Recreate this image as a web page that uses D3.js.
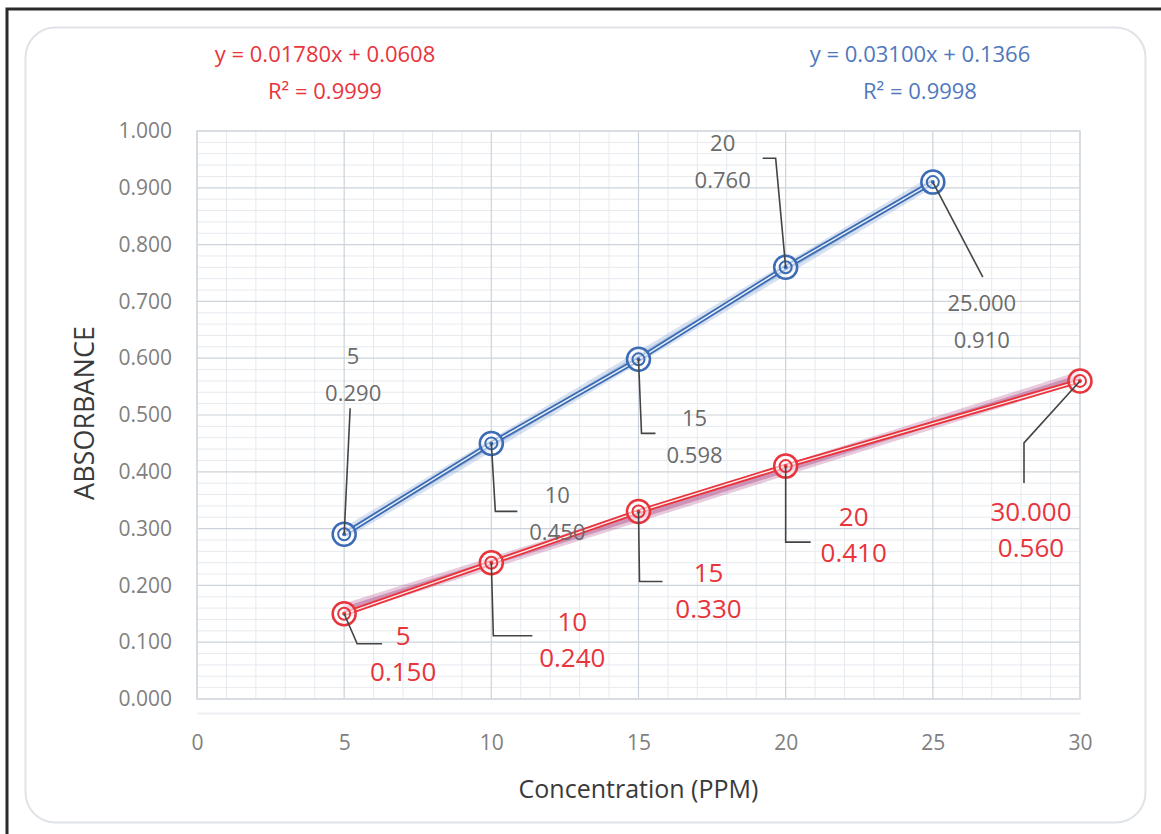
<!DOCTYPE html>
<html>
<head>
<meta charset="utf-8">
<script src="https://cdn.jsdelivr.net/npm/d3@7"></script>
<style>
  body { margin: 0; background: #fff; }
  svg { display: block; }
  .tick-label { font-family: "Open Sans", sans-serif; fill: #808080; }
  .title { font-family: "Open Sans", sans-serif; fill: #3a3a3a; }
  .eq { font-family: "Open Sans", sans-serif; }
  .lbl { font-family: "Open Sans", "DejaVu Sans", sans-serif; }
</style>
</head>
<body>
<div id="chart"></div>
<script>
// data
const xTicks = [0, 5, 10, 15, 20, 25, 30]
const yTicks = [0, 0.1, 0.2, 0.3, 0.4, 0.5, 0.6, 0.7, 0.8, 0.9, 1.0]

const blueX = [5, 10, 15, 20, 25]
const blueY = [0.290, 0.450, 0.598, 0.760, 0.910]
const blueLabelX = ['5', '10', '15', '20', '25.000']
const blueLabelY = ['0.290', '0.450', '0.598', '0.760', '0.910']
const blueEq = ['y = 0.03100x + 0.1366', 'R² = 0.9998']

const redX = [5, 10, 15, 20, 30]
const redY = [0.150, 0.240, 0.330, 0.410, 0.560]
const redLabelX = ['5', '10', '15', '20', '30.000']
const redLabelY = ['0.150', '0.240', '0.330', '0.410', '0.560']
const redEq = ['y = 0.01780x + 0.0608', 'R² = 0.9999']

// label placement (pixel offsets from the point): text dx, dy, leader path
const blueLabelPos = [
  { dx: 9, dy: -178, lead: [[0, 0], [6, -126]] },
  { dx: 66, dy: 52, lead: [[0, 0], [4, 68], [26, 68]] },
  { dx: 56, dy: 59, lead: [[0, 0], [3, 74], [17, 74]] },
  { dx: -63, dy: -124, lead: [[0, 0], [-10, -109], [-23, -109]] },
  { dx: 49, dy: 121, lead: [[0, 0], [50, 95]] }
]
const redLabelPos = [
  { dx: 59, dy: 22, lead: [[0, 0], [13, 30], [38, 30]] },
  { dx: 81, dy: 59, lead: [[0, 0], [2, 73], [41, 73]] },
  { dx: 70, dy: 61, lead: [[0, 0], [1, 70], [24, 70]] },
  { dx: 68, dy: 51, lead: [[0, 0], [0, 76], [25, 76]] },
  { dx: -49, dy: 131, lead: [[0, 0], [-56, 62], [-56, 102]] }
]

const W = 1161
const H = 834
const marginLeft = 197
const marginTop = 131
const plotW = 1080 - 197
const plotH = 699 - 131

const blueColor = '#3b6cb4'
const redColor = '#e8343c'

const svg = d3.select('#chart').append('svg')
  .attr('width', W)
  .attr('height', H)

// frame
svg.append('rect').attr('x', 0).attr('y', 0).attr('width', W).attr('height', H).attr('fill', '#fff')
svg.append('path')
  .attr('d', `M7,${H} L7,9 L${W},9`)
  .attr('fill', 'none').attr('stroke', '#2a2a2a').attr('stroke-width', 3)
svg.append('rect')
  .attr('x', 25.5).attr('y', 27.5).attr('width', 1120).attr('height', 795)
  .attr('rx', 30).attr('ry', 30)
  .attr('fill', '#fff').attr('stroke', '#dfe3e8').attr('stroke-width', 2)

const x = d3.scaleLinear().domain([0, 30]).range([0, plotW])
const y = d3.scaleLinear().domain([0, 1]).range([plotH, 0])

const g = svg.append('g').attr('transform', `translate(${marginLeft}, ${marginTop})`)

// minor grid
const grid = g.append('g')
grid.selectAll('.minor-x')
  .data(d3.range(0, 31).filter(d => d % 5 !== 0))
  .enter().append('line')
  .attr('x1', d => x(d)).attr('x2', d => x(d))
  .attr('y1', 0).attr('y2', plotH)
  .attr('stroke', '#e6eaef').attr('stroke-width', 1)
grid.selectAll('.minor-y')
  .data(d3.range(0, 51).filter(d => d % 5 !== 0).map(d => d / 50))
  .enter().append('line')
  .attr('x1', 0).attr('x2', plotW)
  .attr('y1', d => y(d)).attr('y2', d => y(d))
  .attr('stroke', '#e6eaef').attr('stroke-width', 1)

// major grid
grid.selectAll('.major-x')
  .data(xTicks)
  .enter().append('line')
  .attr('x1', d => x(d)).attr('x2', d => x(d))
  .attr('y1', 0).attr('y2', plotH)
  .attr('stroke', '#cdd3da').attr('stroke-width', 1.2)
grid.selectAll('.major-y')
  .data(yTicks)
  .enter().append('line')
  .attr('x1', 0).attr('x2', plotW)
  .attr('y1', d => y(d)).attr('y2', d => y(d))
  .attr('stroke', '#cdd3da').attr('stroke-width', 1.2)
g.append('rect')
  .attr('x', 0).attr('y', 0).attr('width', plotW).attr('height', plotH)
  .attr('fill', 'none').attr('stroke', '#d4d9df').attr('stroke-width', 1.5)

// axes
const xAxis = g.append('g')
  .attr('transform', `translate(0, ${plotH + 14})`)
  .call(d3.axisBottom(x).tickValues(xTicks).tickSize(0).tickPadding(22).tickFormat(d3.format('d')))
xAxis.select('.domain').attr('stroke', '#eef0f3').attr('stroke-width', 2)
xAxis.selectAll('text').attr('class', 'tick-label').style('font-size', '21px')

const yAxis = g.append('g')
  .call(d3.axisLeft(y).tickValues(yTicks).tickSize(0).tickPadding(25).tickFormat(d3.format('.3f')))
yAxis.select('.domain').remove()
yAxis.selectAll('text').attr('class', 'tick-label').style('font-size', '21px')

svg.append('text')
  .attr('class', 'title')
  .attr('x', marginLeft + plotW / 2)
  .attr('y', 798)
  .attr('text-anchor', 'middle')
  .style('font-size', '25px')
  .text('Concentration (PPM)')

svg.append('text')
  .attr('class', 'title')
  .attr('transform', `translate(94, ${marginTop + plotH / 2 - 2}) rotate(-90)`)
  .attr('text-anchor', 'middle')
  .style('font-size', '27px')
  .text('ABSORBANCE')

// equations
function drawEq(lines, cx, color) {
  svg.append('g').selectAll('text')
    .data(lines)
    .enter().append('text')
    .attr('class', 'eq')
    .attr('x', cx)
    .attr('y', (d, i) => 62 + i * 37)
    .attr('text-anchor', 'middle')
    .attr('fill', color)
    .style('font-size', '22px')
    .text(d => d)
}
drawEq(redEq, 325, redColor)
drawEq(blueEq, 920, '#4f78bd')

// least-squares trendline through the plotted points
function fit(xs, ys) {
  const mx = d3.mean(xs)
  const my = d3.mean(ys)
  const sxy = d3.sum(xs, (d, i) => (d - mx) * (ys[i] - my))
  const sxx = d3.sum(xs, d => (d - mx) * (d - mx))
  const slope = sxy / sxx
  return { slope, intercept: my - slope * mx }
}

// series
function drawSeries(xs, ys, color, glow) {
  const pts = xs.map((d, i) => ({ x: d, y: ys[i] }))
  const line = d3.line().x(d => x(d.x)).y(d => y(d.y))
  const sg = g.append('g')

  // trendline
  const f = fit(xs, ys)
  const xMin = d3.min(xs)
  const xMax = d3.max(xs)
  const trend = [{ x: xMin, y: f.slope * xMin + f.intercept }, { x: xMax, y: f.slope * xMax + f.intercept }]
  sg.append('path').attr('d', line(trend))
    .attr('fill', 'none').attr('stroke', glow).attr('stroke-width', 11).attr('opacity', 0.3)
  sg.append('path').attr('d', line(trend))
    .attr('fill', 'none').attr('stroke', glow).attr('stroke-width', 5).attr('opacity', 0.45)

  // compound line
  sg.append('path').attr('d', line(pts))
    .attr('fill', 'none').attr('stroke', color).attr('stroke-width', 5)
  sg.append('path').attr('d', line(pts))
    .attr('fill', 'none').attr('stroke', '#fff').attr('stroke-width', 1.4).attr('opacity', 0.9)

  // markers
  const m = sg.selectAll('.marker').data(pts).enter().append('g')
    .attr('transform', d => `translate(${x(d.x)}, ${y(d.y)})`)
  m.append('circle').attr('r', 11.5).attr('fill', '#fff').attr('fill-opacity', 0.6)
    .attr('stroke', color).attr('stroke-width', 2.5)
  m.append('circle').attr('r', 6).attr('fill', 'none').attr('stroke', color).attr('stroke-width', 2)
  m.append('circle').attr('r', 2).attr('fill', color)
  return pts
}

function drawLabels(pts, labX, labY, pos, color, size, gap) {
  const lg = g.append('g')
  const leader = d3.line()
  pts.forEach((p, i) => {
    const px = x(p.x)
    const py = y(p.y)
    const o = pos[i]
    lg.append('path')
      .attr('d', leader(o.lead.map(q => [px + q[0], py + q[1]])))
      .attr('fill', 'none').attr('stroke', '#444').attr('stroke-width', 1.6)
    const t = lg.append('text')
      .attr('class', 'lbl')
      .attr('text-anchor', 'middle')
      .attr('fill', color)
      .style('font-size', size + 'px')
    t.append('tspan').attr('x', px + o.dx).attr('y', py + o.dy + size * 0.36).text(labX[i])
    t.append('tspan').attr('x', px + o.dx).attr('y', py + o.dy + gap + size * 0.36).text(labY[i])
  })
}

const redPts = drawSeries(redX, redY, redColor, '#b0508a')
const bluePts = drawSeries(blueX, blueY, blueColor, '#7f9fd0')

drawLabels(bluePts, blueLabelX, blueLabelY, blueLabelPos, '#6b6b6b', 22, 37)
drawLabels(redPts, redLabelX, redLabelY, redLabelPos, redColor, 26, 36)
</script>
</body>
</html>
